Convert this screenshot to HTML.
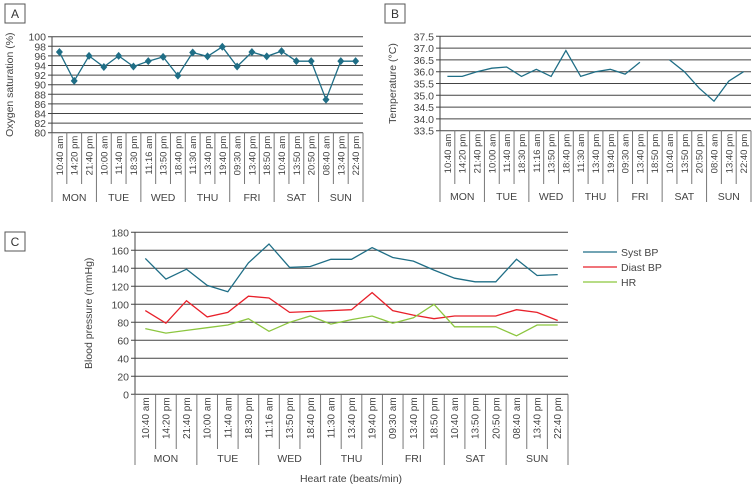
<!DOCTYPE html>
<html><head><meta charset="utf-8"><style>
html,body{margin:0;padding:0;background:#fff;}
svg{display:block;font-family:"Liberation Sans",sans-serif;}
</style></head><body>
<svg id="s" width="754" height="485" viewBox="0 0 754 485"></svg>
<script>
const timeLabels=["10:40 am","14:20 pm","21:40 pm","10:00 am","11:40 am","18:30 pm","11:16 am","13:50 pm","18:40 pm","11:30 am","13:40 pm","19:40 pm","09:30 am","13:40 pm","18:50 pm","10:40 am","13:50 pm","20:50 pm","08:40 am","13:40 pm","22:40 pm"];
const dayLabels=["MON","TUE","WED","THU","FRI","SAT","SUN"];
const oxygenValues=[96.8,90.8,96,93.7,96,93.8,94.9,95.8,91.9,96.7,95.9,97.9,93.8,96.8,95.9,97,94.9,94.9,86.9,94.9,94.9];
const oxygenTicks=[80,82,84,86,88,90,92,94,96,98,100];
const tempValues=[35.8,35.8,36.0,36.15,36.2,35.8,36.1,35.8,36.9,35.8,36.0,36.1,35.9,36.4,null,36.5,36.0,35.3,34.75,35.6,36.0];
const tempTicks=[33.5,34.0,34.5,35.0,35.5,36.0,36.5,37.0,37.5];
const systValues=[151,128,139,121,114,146,167,141,142,150,150,163,152,148,138,129,125,125,150,132,133];
const diastValues=[93,79,104,86,91,109,107,91,92,93,94,113,93,88,84,87,87,87,94,91,82];
const hrValues=[73,68,71,74,77,84,70,80,87,78,83,87,79,85,100,75,75,75,65,77,77];
const bpTicks=[0,20,40,60,80,100,120,140,160,180];

const S=document.getElementById('s');
const NS="http://www.w3.org/2000/svg";
function mk(tag,attrs,parent){const e=document.createElementNS(NS,tag);for(const k in attrs)e.setAttribute(k,attrs[k]);(parent||S).appendChild(e);return e;}

function panelLabel(x,y,t){
  const g=mk('g',{});
  
  
  mk('rect',{x:x,y:y,width:20,height:19,fill:'#fff',stroke:'#555','stroke-width':1},g);
  const tx=mk('text',{x:x+10,y:y+14,'text-anchor':'middle','font-size':12,fill:'#333'},g);tx.textContent=t;
}

function chart(cfg){
  const g=mk('g',{});
  
  
  const n=timeLabels.length, cw=(cfg.x1-cfg.x0)/n;
  const ys=v=>cfg.yb-(v-cfg.min)/(cfg.max-cfg.min)*(cfg.yb-cfg.yt);
  const xs=i=>cfg.x0+cw*(i+0.5);
  cfg.ticks.forEach(t=>{
    const y=ys(t);
    const l=mk('line',{x1:cfg.x0-4,x2:cfg.x1,y1:y,y2:y,stroke:'#444','stroke-width':1},g);
    
    
    const tx=mk('text',{x:cfg.x0-6,y:y+4,'text-anchor':'end','font-size':cfg.tfs,fill:'#444'},g);
    
    
    tx.textContent=cfg.fmt(t);
  });
  mk('line',{x1:cfg.x0,x2:cfg.x0,y1:cfg.yt,y2:cfg.yb,stroke:'#444'},g);
  const yt=mk('text',{transform:`translate(${cfg.titleX},${(cfg.yt+cfg.yb)/2}) rotate(-90)`,'text-anchor':'middle','font-size':cfg.tfs,fill:'#444'},g);
  
  
  yt.textContent=cfg.ytitle;
  for(let i=0;i<=n;i++){
    const x=cfg.x0+cw*i;
    const grp=i%3==0;
    mk('line',{x1:x,x2:x,y1:cfg.yb,y2:grp?cfg.groupBot:cfg.labBot,stroke:'#777','stroke-width':1},g);
  }
  timeLabels.forEach((t,i)=>{
    const tx=mk('text',{transform:`translate(${xs(i)+3.5},${cfg.yb+3}) rotate(-90)`,'text-anchor':'end','font-size':cfg.lfs,fill:'#444'},g);
    
    
    tx.textContent=t;
  });
  dayLabels.forEach((d,i)=>{
    const tx=mk('text',{x:cfg.x0+cw*(i*3+1.5),y:cfg.dayY,'text-anchor':'middle','font-size':cfg.tfs,fill:'#444'},g);
    
    
    tx.textContent=d;
  });
  cfg.series.forEach(s=>{
    let d='',pen=false;
    s.values.forEach((v,i)=>{
      if(v===null){pen=false;return;}
      d+=(pen?'L':'M')+xs(i).toFixed(1)+','+ys(v).toFixed(1);pen=true;
    });
    const p=mk('path',{d:d,fill:'none',stroke:s.color,'stroke-width':1.3},g);
    
    
    if(s.markers){
      s.values.forEach((v,i)=>{
        if(v===null)return;
        const x=xs(i),y=ys(v);
        const m=mk('path',{d:`M${x},${y-4}L${x+3.5},${y}L${x},${y+4}L${x-3.5},${y}Z`,fill:s.color},g);
        
        
      });
    }
  });
  return {ys,xs,cw};
}

panelLabel(5,4,'A');panelLabel(385,4,'B');panelLabel(5,232,'C');

chart({name:'oxygen-chart',x0:52,x1:363,yt:36.7,yb:132.7,min:80,max:100,ticks:oxygenTicks,fmt:v=>v,
  tfs:10.5,lfs:9.5,titleX:13,ytitle:'Oxygen saturation (%)',labBot:184,groupBot:202,dayY:201,
  series:[{name:'oxygen-line',values:oxygenValues,color:'#1f6e86',markers:true}]});
chart({name:'temperature-chart',x0:440,x1:751,yt:36.3,yb:130.7,min:33.5,max:37.5,ticks:tempTicks,fmt:v=>v.toFixed(1),
  tfs:10.5,lfs:9.5,titleX:396,ytitle:'Temperature (°C)',labBot:184,groupBot:202,dayY:200,
  series:[{name:'temperature-line',values:tempValues,color:'#1f6e86'}]});
chart({name:'blood-pressure-chart',x0:135,x1:568,yt:232.3,yb:394.3,min:0,max:180,ticks:bpTicks,fmt:v=>v,
  tfs:10.5,lfs:10,titleX:92,ytitle:'Blood pressure (mmHg)',labBot:449,groupBot:465,dayY:462,
  series:[{name:'syst-bp-line',values:systValues,color:'#1f6e86'},{name:'diast-bp-line',values:diastValues,color:'#e8202a'},{name:'hr-line',values:hrValues,color:'#8cc63f'}]});

const xt=mk('text',{x:351,y:482,'text-anchor':'middle','font-size':10.5,fill:'#444'});


xt.textContent='Heart rate (beats/min)';

const leg=[['Syst BP','#1f6e86'],['Diast BP','#e8202a'],['HR','#8cc63f']];
leg.forEach((l,i)=>{
  const g=mk('g',{});
  
  
  const y=252+i*15;
  mk('line',{x1:583,x2:617,y1:y,y2:y,stroke:l[1],'stroke-width':1.3},g);
  const t=mk('text',{x:621,y:y+4,'font-size':10.5,fill:'#444'},g);t.textContent=l[0];
});
</script>
</body></html>
